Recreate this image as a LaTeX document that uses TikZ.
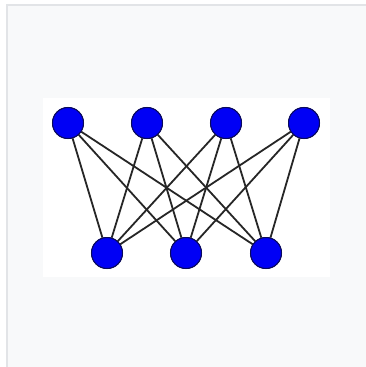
\documentclass[tikz,border=0pt]{standalone}
\definecolor{pagebg}{HTML}{F8F9FA}
\definecolor{frame}{HTML}{E2E4E7}
\definecolor{nodeblue}{RGB}{0,0,245}
\definecolor{nodeedge}{RGB}{10,10,90}
\begin{document}
\begin{tikzpicture}[x=1pt,y=-1pt,
  vtx/.style={circle,fill=nodeblue,draw=nodeedge,line width=1pt,minimum size=31pt,inner sep=0pt},
  edge/.style={black!85,line width=1.8pt}]
\useasboundingbox (0,0) rectangle (365,367);
\fill[white] (0,0) rectangle (365,367);
\filldraw[fill=pagebg,draw=frame,line width=1.2pt] (7,5) rectangle (368,370);
\fill[white] (43,98) rectangle (330,277);
\node[vtx] (a1) at (68,123) {};
\node[vtx] (a2) at (147,123) {};
\node[vtx] (a3) at (226,123) {};
\node[vtx] (a4) at (304,123) {};
\node[vtx] (b1) at (107,253) {};
\node[vtx] (b2) at (186,253) {};
\node[vtx] (b3) at (266,253) {};
\foreach \a in {a1,a2,a3,a4}
  \foreach \b in {b1,b2,b3}
    \draw[edge] (\a) -- (\b);
\foreach \n in {a1,a2,a3,a4,b1,b2,b3}
  \node[vtx] at (\n) {};
\end{tikzpicture}
\end{document}
